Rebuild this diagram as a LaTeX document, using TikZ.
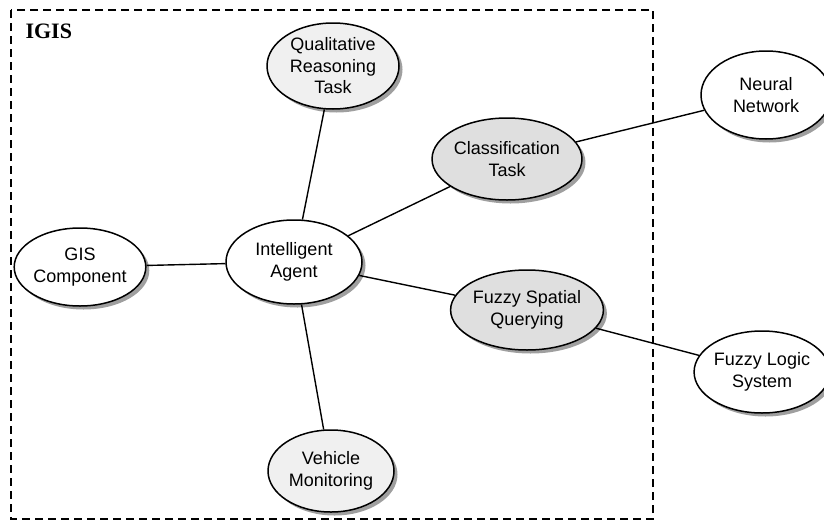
\documentclass[tikz,border=0pt]{standalone}
\usepackage{fontspec}
\setmainfont{Liberation Sans}
\newfontfamily\labelfont{Liberation Serif}
\usetikzlibrary{shadows,shapes.geometric}
\tikzset{
  ell/.style={ellipse, draw=black, line width=1.5pt, fill=white, align=center,
    font=\fontsize{18}{21.5}\selectfont, inner sep=0pt,
    drop shadow={shadow xshift=3.5pt, shadow yshift=-3.5pt, fill=gray!75, opacity=1}},
  dotfill/.style={fill=gray!12},
  linefill/.style={fill=gray!25},
  conn/.style={line width=1.4pt},
  frame/.style={line width=1.8pt, dash pattern=on 8pt off 5pt}
}
\begin{document}
\begin{tikzpicture}[x=1pt,y=-1pt]
\useasboundingbox (0,0) rectangle (824,525);
\clip (0,0) rectangle (824,525);
\fill[white] (0,0) rectangle (824,525);
\draw[frame] (11,10) rectangle (653,519);
\node[anchor=base west, font=\labelfont\bfseries\fontsize{22}{24}\selectfont] (igis) at (22,38) {IGIS};

\node[ell, dotfill, minimum width=132pt, minimum height=86pt] (qrt) at (333,66) {Qualitative\\Reasoning\\Task};
\node[ell, linefill, minimum width=136pt, minimum height=82pt] (ct) at (507,159) {Classification\\Task};
\node[ell, minimum width=130pt, minimum height=88pt] (nn) at (766,95) {Neural\\Network};
\node[ell, minimum width=118pt, minimum height=78pt] (gis) at (80,267) {GIS\\Component};
\node[ell, minimum width=136pt, minimum height=84pt] (ia) at (294,262) {Intelligent\\Agent};
\node[ell, linefill, minimum width=138pt, minimum height=80pt] (fsq) at (527,310) {Fuzzy Spatial\\Querying};
\node[ell, minimum width=130pt, minimum height=82pt] (fls) at (762,372) {Fuzzy Logic\\System};
\node[ell, dotfill, minimum width=126pt, minimum height=82pt] (vm) at (331,471) {Vehicle\\Monitoring};

\draw[conn] (ia) -- (qrt);
\draw[conn] (ia) -- (ct);
\draw[conn] (ct) -- (nn);
\draw[conn] (gis) -- (ia);
\draw[conn] (ia) -- (fsq);
\draw[conn] (fsq) -- (fls);
\draw[conn] (ia) -- (vm);
\end{tikzpicture}
\end{document}
